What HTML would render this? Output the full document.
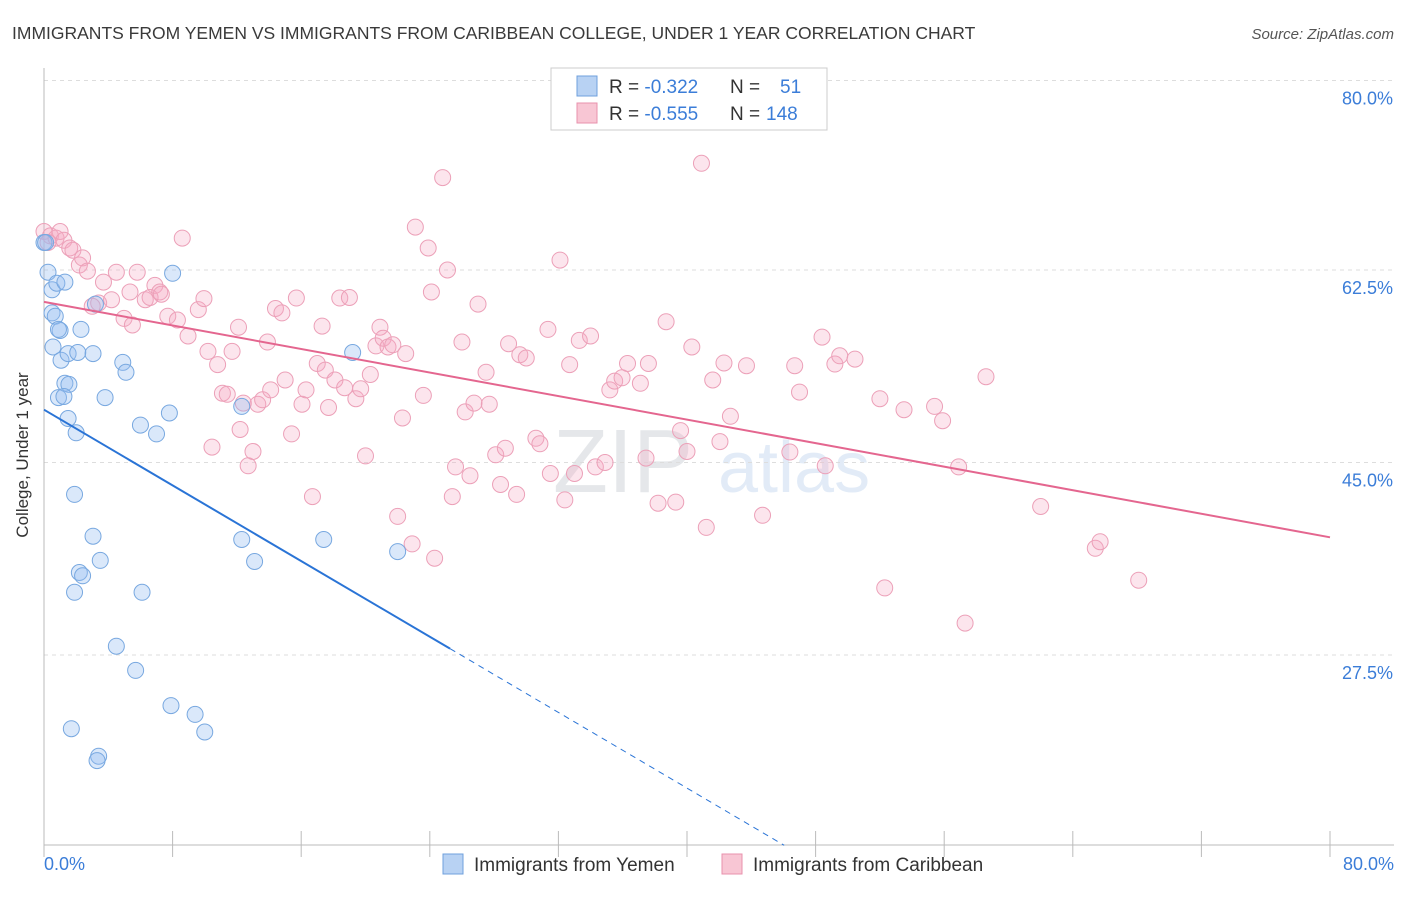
<!DOCTYPE html>
<html><head><meta charset="utf-8">
<style>
body{margin:0;background:#fff;font-family:"Liberation Sans",sans-serif;}
svg text{font-family:"Liberation Sans",sans-serif;}
</style></head>
<body>
<svg id="chart" width="1406" height="892" xmlns="http://www.w3.org/2000/svg">
<text x="12" y="39" font-size="17.5" fill="#3a3a3a">IMMIGRANTS FROM YEMEN VS IMMIGRANTS FROM CARIBBEAN COLLEGE, UNDER 1 YEAR CORRELATION CHART</text>
<text x="1394" y="39" font-size="15" fill="#555" font-style="italic" text-anchor="end">Source: ZipAtlas.com</text>
<g opacity="0.25">
<text x="553" y="492" font-size="90" fill="#9aa3ad" font-family="Liberation Serif">ZIP</text>
<text x="718" y="492" font-size="72" fill="#8db4e0">atlas</text>
</g>
<g id="grid"></g>
<g id="axes"></g>
<g id="pts"></g>
<g id="trend"></g>
<text x="28" y="455" font-size="17" fill="#333" text-anchor="middle" transform="rotate(-90 28 455)">College, Under 1 year</text>
<g>
<rect x="551" y="68" width="276" height="62" fill="#fff" stroke="#ccc"/>
<rect x="577" y="76" width="20" height="20" fill="#b8d2f3" stroke="#6fa0dc"/>
<rect x="577" y="103" width="20" height="20" fill="#f8c6d4" stroke="#e891ad"/>
<text x="609" y="93" font-size="19" fill="#333">R = <tspan fill="#3b7dd8">-0.322</tspan><tspan x="730">N = </tspan><tspan x="780" fill="#3b7dd8">51</tspan></text>
<text x="609" y="120" font-size="19" fill="#333">R = <tspan fill="#3b7dd8">-0.555</tspan><tspan x="730">N = </tspan><tspan x="766" fill="#3b7dd8">148</tspan></text>
</g>
<g>
<rect x="443" y="854" width="20" height="20" fill="#b8d2f3" stroke="#6fa0dc"/>
<text x="474" y="871" font-size="19" fill="#333">Immigrants from Yemen</text>
<rect x="722" y="854" width="20" height="20" fill="#f8c6d4" stroke="#e891ad"/>
<text x="753" y="871" font-size="19" fill="#333">Immigrants from Caribbean</text>
</g>
</svg>
<script>
const yTicks=[27.5,45.0,62.5,80.0];
const yTickLabels=["27.5%","45.0%","62.5%","80.0%"];
const xTickLabels=["0.0%","80.0%"];
const yemenX=[0.25,0.5,0.8,1.3,0.5,0.7,1.0,0.9,2.3,0.56,1.06,1.5,3.05,2.1,1.3,1.55,0.9,1.24,1.5,2.0,4.9,5.1,3.8,3.2,8.0,6.0,7.0,7.8,12.3,19.2,1.9,3.05,3.5,2.2,2.4,1.9,6.1,12.3,13.1,17.4,22.0,4.5,5.7,7.9,9.4,10.0,1.7,3.4,3.3,0,0.1];
const yemenY=[62.3,60.7,61.3,61.4,58.6,58.3,57.0,57.1,57.1,55.5,54.3,54.9,54.9,55.0,52.2,52.1,50.9,51.0,49.0,47.7,54.1,53.2,50.9,59.4,62.2,48.4,47.6,49.5,50.1,55.0,42.1,38.3,36.1,35.0,34.7,33.2,33.2,38.0,36.0,38.0,36.9,28.3,26.1,22.9,22.1,20.5,20.8,18.3,17.9,65.0,65.0];
const caribX=[0.0,0.4,0.75,1.0,1.24,0.25,1.6,1.8,2.2,2.4,2.7,3.4,3.0,3.7,4.2,4.5,4.98,5.35,5.8,5.5,6.3,6.6,6.9,7.2,7.3,7.7,8.3,8.6,8.96,9.6,9.95,10.2,10.45,10.8,11.1,11.4,11.7,12.1,12.2,12.4,12.7,13.0,13.3,13.6,13.9,14.1,14.4,14.8,15.0,15.4,15.7,16.05,16.3,16.7,17.0,17.3,17.5,17.7,18.1,18.4,19.0,18.7,19.4,19.7,20.0,20.3,20.65,20.9,21.1,21.4,21.7,22.0,22.3,22.5,22.9,23.1,23.6,23.9,24.1,24.3,24.8,25.1,25.4,25.6,26.0,26.2,26.5,26.75,27.0,27.5,27.7,28.1,28.4,28.7,28.9,29.4,29.6,30.0,30.6,30.85,31.35,31.5,32.1,32.4,32.7,33.0,33.3,34.0,34.3,34.9,35.2,35.5,35.96,36.3,37.1,37.45,37.6,38.2,38.7,39.3,39.6,40.0,40.3,40.9,41.2,41.6,42.05,42.3,42.7,43.7,44.7,46.4,46.7,47.0,48.4,48.6,49.2,49.5,50.45,52.0,52.3,53.5,55.4,55.9,56.9,57.3,58.6,62.0,65.4,65.7,68.1];
const caribY=[66.0,65.6,65.4,66.0,65.2,65.0,64.5,64.3,62.95,63.6,62.4,59.5,59.2,61.4,59.8,62.3,58.1,60.5,62.3,57.5,59.8,60.0,61.1,60.5,60.3,58.3,57.95,65.4,56.5,58.9,59.9,55.1,46.4,53.9,51.3,51.2,55.1,57.3,48.0,50.4,44.7,46.0,50.3,50.7,55.95,51.6,59.0,58.6,52.5,47.6,59.95,50.3,51.6,41.9,54.0,57.4,53.4,50.0,52.5,59.95,60.0,51.8,50.8,51.7,45.6,53.0,55.6,57.3,56.3,55.5,55.7,40.1,49.05,54.9,37.6,66.4,51.1,64.5,60.5,36.3,70.9,62.5,41.9,44.6,55.95,49.6,43.8,50.4,59.4,53.2,50.3,45.7,43.0,46.3,55.8,42.1,54.8,54.5,47.2,46.7,57.1,44.0,63.4,41.6,53.9,44.0,56.1,56.5,44.6,45.0,51.6,52.4,52.7,54.0,52.2,45.4,54.0,41.3,57.8,41.4,47.9,46.0,55.5,72.2,39.1,52.5,46.9,54.05,49.2,53.8,40.2,45.95,53.8,51.4,56.4,44.7,53.95,54.7,54.4,50.8,33.6,49.8,50.1,48.8,44.6,30.4,52.8,41.0,37.2,37.8,34.3];
const yemenTrend=[49.8,-0.86];
const caribTrend=[59.6,-0.2675];

const X0=44,X1=1330,Y0=957.5,PX=16.075,PY=11;
const sx=v=>X0+v*PX, sy=v=>Y0-v*PY;
const NS="http://www.w3.org/2000/svg";
function mk(tag,attrs,parent){const e=document.createElementNS(NS,tag);for(const k in attrs)e.setAttribute(k,attrs[k]);parent.appendChild(e);return e;}
const grid=document.getElementById('grid'),axes=document.getElementById('axes'),pts=document.getElementById('pts'),trend=document.getElementById('trend');
yTicks.forEach((t,i)=>{
  const y=sy(t)+(t===80?3:0);
  const l=mk('line',{x1:44,x2:1394,y1:y,y2:y,stroke:'#ddd','stroke-dasharray':'4,4'},grid);
  
  
  const tx=mk('text',{x:1393,y:y+24,'font-size':18,fill:'#3b7dd8','text-anchor':'end'},axes);
  tx.textContent=yTickLabels[i];
  
  
});
let a=mk('line',{x1:44,x2:44,y1:68,y2:845,stroke:'#bbb'},axes);


a=mk('line',{x1:44,x2:1394,y1:845,y2:845,stroke:'#bbb'},axes);


for(let i=0;i<=10;i++){
  const x=sx(i*8);
  const t=mk('line',{x1:x,x2:x,y1:831,y2:857,stroke:'#bbb'},axes);
  
  
}
let xl=mk('text',{x:44,y:870,'font-size':18,fill:'#3b7dd8'},axes);
xl.textContent=xTickLabels[0];


xl=mk('text',{x:1394,y:870,'font-size':18,fill:'#3b7dd8','text-anchor':'end'},axes);
xl.textContent=xTickLabels[1];


caribX.forEach((v,i)=>{
  const c=mk('circle',{cx:sx(v),cy:sy(caribY[i]),r:8,fill:'rgba(244,170,195,0.3)',stroke:'#eca0b8','stroke-width':1},pts);
  
  
});
yemenX.forEach((v,i)=>{
  const c=mk('circle',{cx:sx(v),cy:sy(yemenY[i]),r:8,fill:'rgba(150,190,240,0.35)',stroke:'#78a8e0','stroke-width':1},pts);
  
  
});
const yf=x=>yemenTrend[0]+yemenTrend[1]*x;
let ln=mk('line',{x1:sx(0),y1:sy(yf(0)),x2:sx(25.26),y2:sy(yf(25.26)),stroke:'#2a74d6','stroke-width':2},trend);


const xEnd=(10.2-yemenTrend[0])/yemenTrend[1];
ln=mk('line',{x1:sx(25.26),y1:sy(yf(25.26)),x2:sx(xEnd),y2:sy(yf(xEnd)),stroke:'#2a74d6','stroke-width':1,'stroke-dasharray':'6,5'},trend);


const cf=x=>caribTrend[0]+caribTrend[1]*x;
ln=mk('line',{x1:sx(0),y1:sy(cf(0)),x2:sx(80),y2:sy(cf(80)),stroke:'#e4668f','stroke-width':2},trend);


</script>
</body></html>
